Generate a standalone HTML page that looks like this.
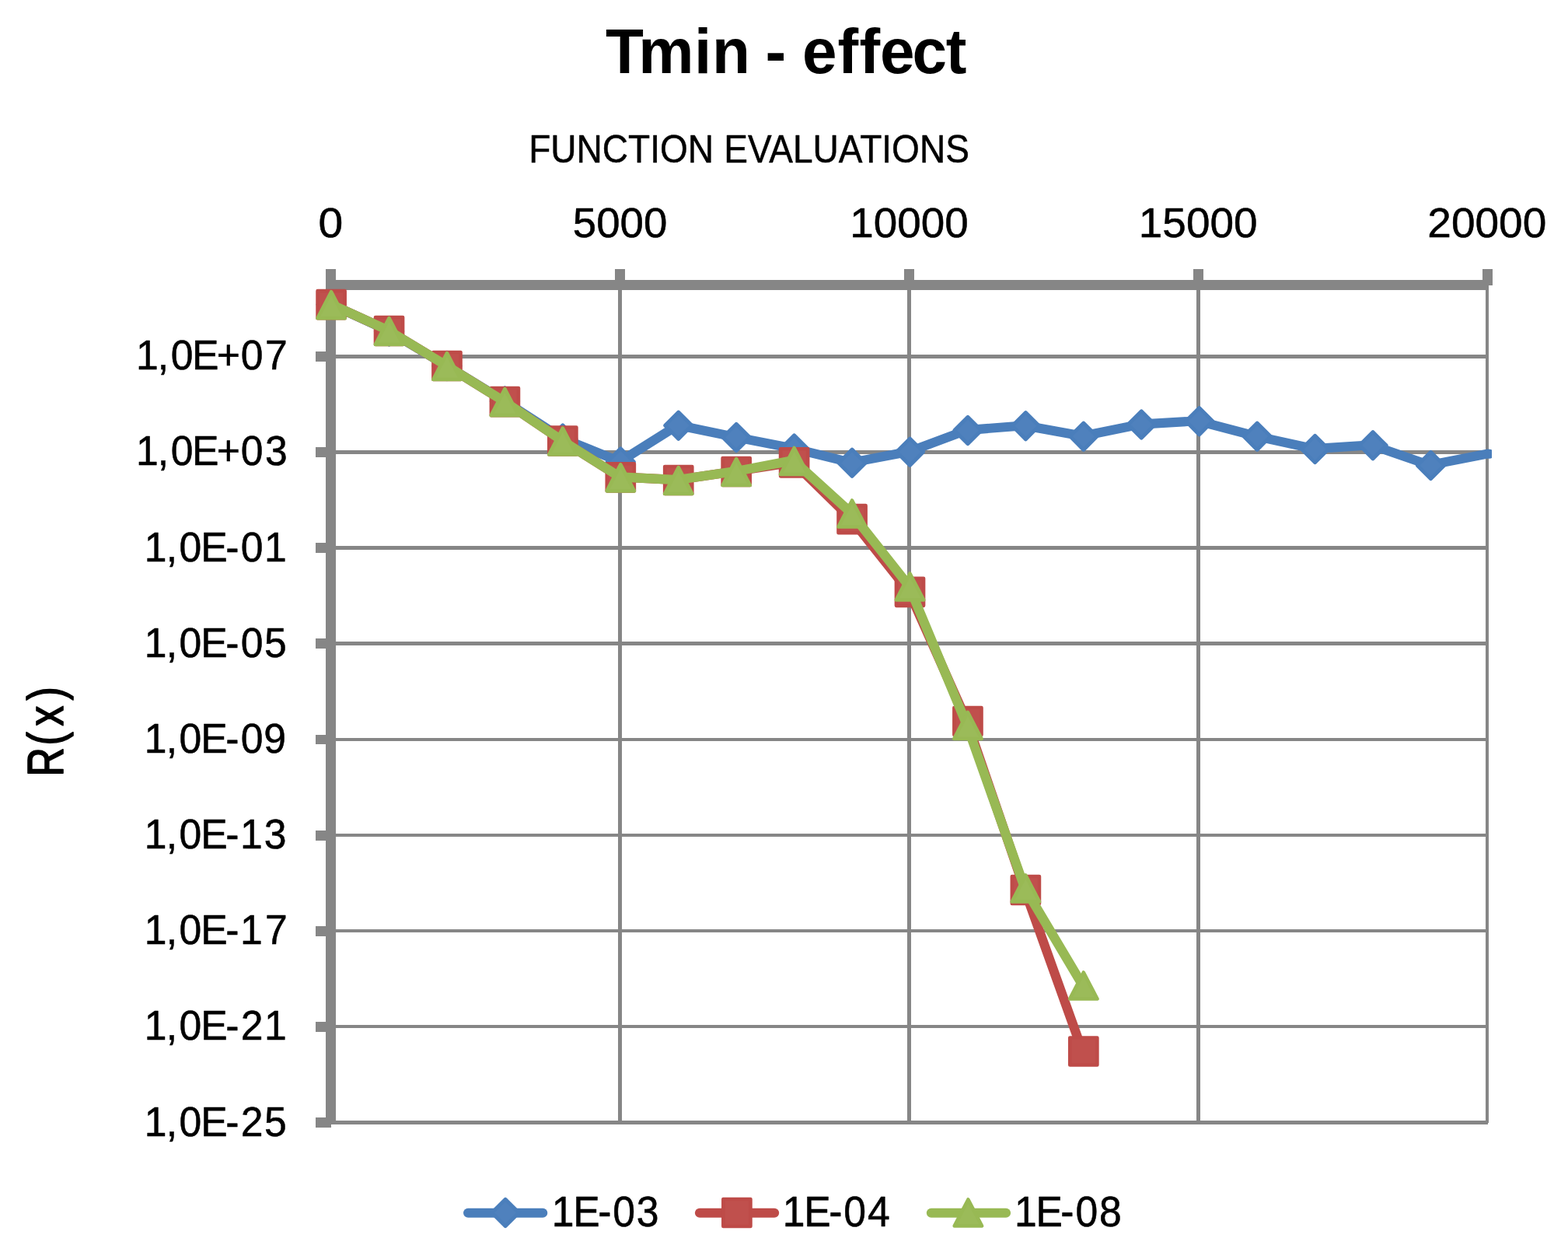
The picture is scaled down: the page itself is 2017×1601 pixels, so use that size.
<!DOCTYPE html>
<html lang="en"><head><meta charset="utf-8"><title>Tmin - effect</title>
<style>html,body{margin:0;padding:0;background:#fff}body{width:2017px;height:1601px;overflow:hidden}svg{display:block}text{font-family:"Liberation Sans",sans-serif;fill:#000;white-space:pre}</style></head><body>
<svg width="2017" height="1601" viewBox="0 0 2017 1601">
<rect width="2017" height="1601" fill="#fff"/>
<g fill="#868686" shape-rendering="crispEdges">
<rect x="426" y="456" width="1488" height="5"/>
<rect x="426" y="579" width="1488" height="5"/>
<rect x="426" y="702" width="1488" height="5"/>
<rect x="426" y="825" width="1488" height="5"/>
<rect x="426" y="949" width="1488" height="4"/>
<rect x="426" y="1072" width="1488" height="4"/>
<rect x="426" y="1195" width="1488" height="4"/>
<rect x="426" y="1318" width="1488" height="4"/>
<rect x="426" y="1441" width="1488" height="5"/>
<rect x="795" y="366" width="5" height="1078"/>
<rect x="1167" y="366" width="5" height="1078"/>
<rect x="1539" y="366" width="5" height="1078"/>
<rect x="1911" y="366" width="4" height="1078"/>
<rect x="419" y="360" width="1496" height="13"/>
<rect x="419" y="346" width="13" height="1100"/>
<rect x="791" y="346" width="13" height="21"/>
<rect x="1163" y="346" width="13" height="21"/>
<rect x="1535" y="346" width="13" height="21"/>
<rect x="1907" y="346" width="13" height="21"/>
<rect x="406" y="452" width="20" height="13"/>
<rect x="406" y="575" width="20" height="13"/>
<rect x="406" y="698" width="20" height="13"/>
<rect x="406" y="821" width="20" height="13"/>
<rect x="406" y="945" width="20" height="12"/>
<rect x="406" y="1068" width="20" height="13"/>
<rect x="406" y="1191" width="20" height="13"/>
<rect x="406" y="1314" width="20" height="13"/>
<rect x="406" y="1437" width="20" height="13"/>
</g>
<clipPath id="cp"><rect x="400" y="340" width="1519" height="1200"/></clipPath>
<polyline clip-path="url(#cp)" points="425.50,391.30 499.88,425.60 574.26,470.10 648.64,515.60 723.02,563.60 797.40,593.60 871.78,546.80 946.16,562.10 1020.54,576.60 1094.92,594.90 1169.30,580.80 1243.68,553.10 1318.06,547.30 1392.44,560.80 1466.82,545.60 1541.20,541.30 1615.58,560.80 1689.96,577.10 1764.34,572.30 1838.72,598.10 1913.10,583.60 1916.00,583.80" fill="none" stroke="#4A7EBB" stroke-width="12.1" stroke-linejoin="round" stroke-linecap="round"/>
<g fill="#4F81BD" stroke="#4A7EBB" stroke-width="4.6" stroke-linejoin="round">
<path d="M426.10 374.40L443.40 391.70L426.10 409.00L408.80 391.70Z"/>
<path d="M500.54 408.70L517.84 426.00L500.54 443.30L483.24 426.00Z"/>
<path d="M574.98 453.20L592.28 470.50L574.98 487.80L557.68 470.50Z"/>
<path d="M649.42 498.70L666.72 516.00L649.42 533.30L632.12 516.00Z"/>
<path d="M723.86 546.70L741.16 564.00L723.86 581.30L706.56 564.00Z"/>
<path d="M798.30 576.70L815.60 594.00L798.30 611.30L781.00 594.00Z"/>
<path d="M872.74 529.90L890.04 547.20L872.74 564.50L855.44 547.20Z"/>
<path d="M947.18 545.20L964.48 562.50L947.18 579.80L929.88 562.50Z"/>
<path d="M1021.62 559.70L1038.92 577.00L1021.62 594.30L1004.32 577.00Z"/>
<path d="M1096.06 578.00L1113.36 595.30L1096.06 612.60L1078.76 595.30Z"/>
<path d="M1170.50 563.90L1187.80 581.20L1170.50 598.50L1153.20 581.20Z"/>
<path d="M1244.94 536.20L1262.24 553.50L1244.94 570.80L1227.64 553.50Z"/>
<path d="M1319.38 530.40L1336.68 547.70L1319.38 565.00L1302.08 547.70Z"/>
<path d="M1393.82 543.90L1411.12 561.20L1393.82 578.50L1376.52 561.20Z"/>
<path d="M1468.26 528.70L1485.56 546.00L1468.26 563.30L1450.96 546.00Z"/>
<path d="M1542.70 524.40L1560.00 541.70L1542.70 559.00L1525.40 541.70Z"/>
<path d="M1617.14 543.90L1634.44 561.20L1617.14 578.50L1599.84 561.20Z"/>
<path d="M1691.58 560.20L1708.88 577.50L1691.58 594.80L1674.28 577.50Z"/>
<path d="M1766.02 555.40L1783.32 572.70L1766.02 590.00L1748.72 572.70Z"/>
<path d="M1840.46 581.20L1857.76 598.50L1840.46 615.80L1823.16 598.50Z"/>
</g>
<polyline points="425.50,391.30 499.88,425.10 574.26,470.10 648.64,516.20 723.02,566.60 797.40,613.40 871.78,617.10 946.16,606.10 1020.54,594.40 1094.92,667.30 1169.30,760.90 1243.68,927.10 1318.06,1144.10 1392.44,1351.60" fill="none" stroke="#BE4B48" stroke-width="12.1" stroke-linejoin="round" stroke-linecap="round"/>
<g fill="#C0504D" stroke="#BE4B48" stroke-width="4.6" stroke-linejoin="round">
<rect x="408.55" y="374.15" width="35.10" height="35.10"/>
<rect x="482.99" y="407.95" width="35.10" height="35.10"/>
<rect x="557.43" y="452.95" width="35.10" height="35.10"/>
<rect x="631.87" y="499.05" width="35.10" height="35.10"/>
<rect x="706.31" y="549.45" width="35.10" height="35.10"/>
<rect x="780.75" y="596.25" width="35.10" height="35.10"/>
<rect x="855.19" y="599.95" width="35.10" height="35.10"/>
<rect x="929.63" y="588.95" width="35.10" height="35.10"/>
<rect x="1004.07" y="577.25" width="35.10" height="35.10"/>
<rect x="1078.51" y="650.15" width="35.10" height="35.10"/>
<rect x="1152.95" y="743.75" width="35.10" height="35.10"/>
<rect x="1227.39" y="909.95" width="35.10" height="35.10"/>
<rect x="1301.83" y="1126.95" width="35.10" height="35.10"/>
<rect x="1376.27" y="1334.45" width="35.10" height="35.10"/>
</g>
<polyline points="425.50,391.30 499.88,425.10 574.26,470.10 648.64,516.20 723.02,566.60 797.40,613.40 871.78,617.10 946.16,606.10 1020.54,592.05 1094.92,659.55 1169.30,753.55 1243.68,932.05 1318.06,1141.55 1392.44,1266.55" fill="none" stroke="#98B954" stroke-width="12.1" stroke-linejoin="round" stroke-linecap="round"/>
<g fill="#9BBB59" stroke="#98B954" stroke-width="4.6" stroke-linejoin="round">
<path d="M426.10 375.25L443.80 409.25L408.40 409.25Z"/>
<path d="M500.54 409.05L518.24 443.05L482.84 443.05Z"/>
<path d="M574.98 454.05L592.68 488.05L557.28 488.05Z"/>
<path d="M649.42 500.15L667.12 534.15L631.72 534.15Z"/>
<path d="M723.86 550.55L741.56 584.55L706.16 584.55Z"/>
<path d="M798.30 597.35L816.00 631.35L780.60 631.35Z"/>
<path d="M872.74 601.05L890.44 635.05L855.04 635.05Z"/>
<path d="M947.18 590.05L964.88 624.05L929.48 624.05Z"/>
<path d="M1021.62 576.00L1039.32 610.00L1003.92 610.00Z"/>
<path d="M1096.06 643.50L1113.76 677.50L1078.36 677.50Z"/>
<path d="M1170.50 737.50L1188.20 771.50L1152.80 771.50Z"/>
<path d="M1244.94 916.00L1262.64 950.00L1227.24 950.00Z"/>
<path d="M1319.38 1125.50L1337.08 1159.50L1301.68 1159.50Z"/>
<path d="M1393.82 1250.50L1411.52 1284.50L1376.12 1284.50Z"/>
</g>
<line x1="602.05" y1="1559.80" x2="698.25" y2="1559.80" stroke="#4A7EBB" stroke-width="12.1" stroke-linecap="round"/>
<path d="M650.10 1542.20L667.40 1559.50L650.10 1576.80L632.80 1559.50Z" fill="#4F81BD" stroke="#4A7EBB" stroke-width="4.6" stroke-linejoin="round"/>
<line x1="899.95" y1="1559.80" x2="996.15" y2="1559.80" stroke="#BE4B48" stroke-width="12.1" stroke-linecap="round"/>
<rect x="930.35" y="1541.95" width="35.10" height="35.10" fill="#C0504D" stroke="#BE4B48" stroke-width="4.6" stroke-linejoin="round"/>
<line x1="1197.85" y1="1559.80" x2="1294.05" y2="1559.80" stroke="#98B954" stroke-width="12.1" stroke-linecap="round"/>
<g fill="#9BBB59" stroke="#98B954" stroke-width="4.6" stroke-linejoin="round">
<path d="M1245.40 1542.50L1263.10 1576.50L1227.70 1576.50Z"/>
</g>
<text font-size="100" font-weight="bold" transform="matrix(0.8011 0 0 0.8202 0 93.8)" x="972.4 1025.1 1114.7 1143.4 1183.4 1228.9 1268.9 1288.4 1344.9 1380.0 1413.2 1464.9 1518.8" y="0">Tmin - effect</text>
<text font-size="100" stroke="#000" stroke-width="1.0" stroke-linejoin="round" transform="matrix(0.4606 0 0 0.4973 0 208.5562)" y="0"><tspan x="1476.8">FUNCTION </tspan><tspan x="2021.8">EVALUATIONS</tspan></text>
<text font-size="100" stroke="#000" stroke-width="1.0" stroke-linejoin="round" transform="matrix(0.5698 0 0 0.545 409.5649 305.0985)">0</text>
<text font-size="100" stroke="#000" stroke-width="1.0" stroke-linejoin="round" transform="matrix(0.5465 0 0 0.545 736.739 305.0985)">5000</text>
<text font-size="100" stroke="#000" stroke-width="1.0" stroke-linejoin="round" transform="matrix(0.5478 0 0 0.545 1093.3163 305.0985)">10000</text>
<text font-size="100" stroke="#000" stroke-width="1.0" stroke-linejoin="round" transform="matrix(0.5496 0 0 0.545 1464.8031 305.0985)">15000</text>
<text font-size="100" stroke="#000" stroke-width="1.0" stroke-linejoin="round" transform="matrix(0.55 0 0 0.545 1836.3046 305.0985)">20000</text>
<text font-size="100" stroke="#000" stroke-width="1.0" stroke-linejoin="round" transform="matrix(0.517 0 0 0.545 0 474.9985)" x="338.3 392.4 425.1 478.0 539.3 598.9 659.8" y="0">1,0E+07</text>
<text font-size="100" stroke="#000" stroke-width="1.0" stroke-linejoin="round" transform="matrix(0.517 0 0 0.545 0 597.9985)" x="338.3 392.4 425.1 478.0 539.3 598.9 659.5" y="0">1,0E+03</text>
<text font-size="100" stroke="#000" stroke-width="1.0" stroke-linejoin="round" transform="matrix(0.517 0 0 0.545 0 721.9985)" x="359.2 413.5 445.9 499.3 561.6 598.9 657.8" y="0">1,0E-01</text>
<text font-size="100" stroke="#000" stroke-width="1.0" stroke-linejoin="round" transform="matrix(0.517 0 0 0.545 0 844.9985)" x="359.2 413.5 445.9 499.3 561.6 598.9 657.5" y="0">1,0E-05</text>
<text font-size="100" stroke="#000" stroke-width="1.0" stroke-linejoin="round" transform="matrix(0.517 0 0 0.545 0 968.0985)" x="359.2 413.5 445.9 499.3 561.6 598.9 656.0" y="0">1,0E-09</text>
<text font-size="100" stroke="#000" stroke-width="1.0" stroke-linejoin="round" transform="matrix(0.517 0 0 0.545 0 1091.0985)" x="359.2 413.5 445.9 499.3 561.6 597.5 657.2" y="0">1,0E-13</text>
<text font-size="100" stroke="#000" stroke-width="1.0" stroke-linejoin="round" transform="matrix(0.517 0 0 0.545 0 1214.0985)" x="359.2 413.5 445.9 499.3 561.6 597.5 659.8" y="0">1,0E-17</text>
<text font-size="100" stroke="#000" stroke-width="1.0" stroke-linejoin="round" transform="matrix(0.517 0 0 0.545 0 1336.9985)" x="359.2 413.5 445.9 499.3 561.6 598.9 657.8" y="0">1,0E-21</text>
<text font-size="100" stroke="#000" stroke-width="1.0" stroke-linejoin="round" transform="matrix(0.517 0 0 0.545 0 1460.8985)" x="359.2 413.5 445.9 499.3 561.6 598.9 657.5" y="0">1,0E-25</text>
<text font-size="100" stroke="#000" stroke-width="1.0" stroke-linejoin="round" transform="matrix(0.517 0 0 0.5464 0 1577.1965)" x="1372.8 1426.0 1487.7 1524.8 1583.9" y="0">1E-03</text>
<text font-size="100" stroke="#000" stroke-width="1.0" stroke-linejoin="round" transform="matrix(0.517 0 0 0.5464 0 1577.1965)" x="1947.2 2000.5 2062.2 2099.3 2158.6" y="0">1E-04</text>
<text font-size="100" stroke="#000" stroke-width="1.0" stroke-linejoin="round" transform="matrix(0.517 0 0 0.5464 0 1577.1965)" x="2524.0 2577.3 2639.0 2676.1 2734.9" y="0">1E-08</text>
<text font-size="100" stroke="#000" stroke-width="2.5" stroke-linejoin="round" transform="matrix(0 -0.5171 0.6549 0 81.0198 1000)" x="2.8 80.5 128.4 192.4" y="0">R(x)</text>
</svg></body></html>
